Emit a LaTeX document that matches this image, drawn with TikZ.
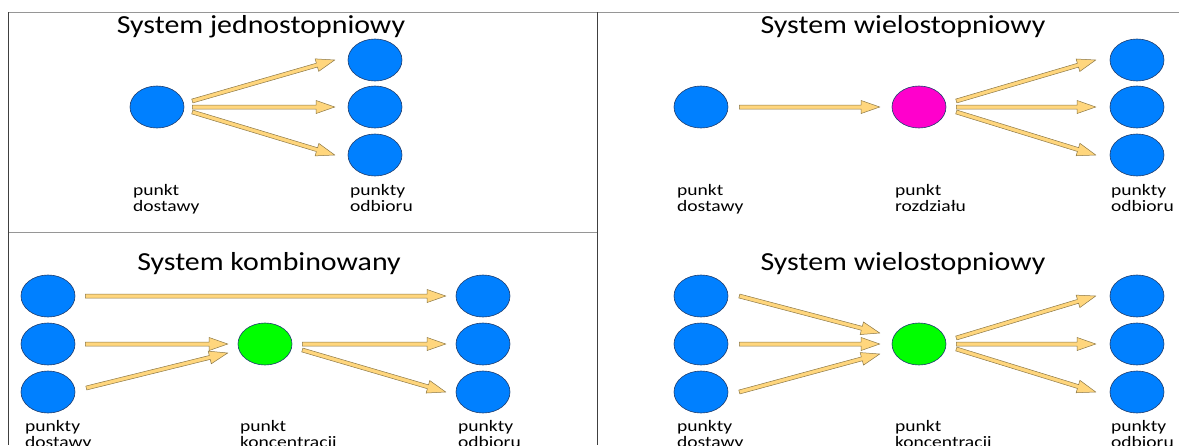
\documentclass[tikz,border=0pt]{standalone}
\usepackage{fontspec}
\setmainfont{Carlito}
\newfontfamily\titlefont[FakeStretch=1.15]{Carlito}
\newfontfamily\labelfont[FakeStretch=1.22]{Carlito}
\usetikzlibrary{calc,shapes.geometric}
\definecolor{nodeblue}{RGB}{0,128,255}
\definecolor{nodeedge}{RGB}{30,60,110}
\definecolor{nodepink}{RGB}{255,0,204}
\definecolor{nodegreen}{RGB}{0,255,0}
\definecolor{arrowfill}{RGB}{255,214,125}
\definecolor{arrowedge}{RGB}{140,120,70}
\definecolor{framedark}{RGB}{64,64,64}
\definecolor{framelight}{RGB}{150,150,150}
\newcommand\blockarrow[2]{%
  \coordinate (as) at #1;
  \coordinate (ae) at #2;
  \coordinate (ah) at ($(ae)!18.5pt!(as)$);
  \filldraw[arrowbody] ($(as)!2pt!90:(ae)$) -- ($(ah)!2pt!-90:(as)$) -- ($(ah)!6.5pt!-90:(as)$) -- (ae) -- ($(ah)!6.5pt!90:(as)$) -- ($(ah)!2pt!90:(as)$) -- ($(as)!2pt!-90:(ae)$) -- cycle;}
\begin{document}
\begin{tikzpicture}[x=1pt,y=-1pt,
  spot/.style={ellipse,minimum width=54pt,minimum height=42pt,inner sep=0pt,draw=nodeedge,line width=0.6pt},
  bluespot/.style={spot,fill=nodeblue},
  pinkspot/.style={spot,fill=nodepink},
  greenspot/.style={spot,fill=nodegreen},
  arrowbody/.style={fill=arrowfill,draw=arrowedge,line width=0.5pt,line join=miter},
  title/.style={font=\titlefont\fontsize{26}{30}\selectfont,inner sep=0pt},
  lbl/.style={font=\labelfont\fontsize{16}{16}\selectfont,align=left,anchor=base west,inner sep=0pt},
  darkline/.style={draw=framedark,line width=1pt},
  lightline/.style={draw=framelight,line width=1pt}]
\useasboundingbox (0,0) rectangle (1179,445);
\clip (0,0) rectangle (1179,445);
\fill[white] (0,0) rectangle (1179,445);
% frame
\coordinate (f1) at (8,12);
\coordinate (f2) at (1179,12);
\coordinate (f3) at (597,232);
\coordinate (f4) at (8,232);
\coordinate (f5) at (8,445);
\coordinate (f6) at (597,445);
\coordinate (f7) at (597,12);
\path[lightline] (f1) -- (f2);
\path[lightline] (f4) -- (f3);
\path[darkline] (f1) -- (f5);
\path[darkline] (f7) -- (f6);
% ---------- top left
\node[title] (t1) at (261,27) {System jednostopniowy};
\node[bluespot] (s1) at (157,107) {};
\node[bluespot] (r1a) at (375,60) {};
\node[bluespot] (r1b) at (375,107) {};
\node[bluespot] (r1c) at (375,155) {};
\blockarrow{($(s1.east)+(8,-6)$)}{($(r1a.west)+(-13,0)$)}
\blockarrow{($(s1.east)+(8,0)$)}{($(r1b.west)+(-13,0)$)}
\blockarrow{($(s1.east)+(8,5)$)}{($(r1c.west)+(-13,0)$)}
\node[lbl] (l1a) at (133,211) {punkt\\dostawy};
\node[lbl] (l1b) at (350,211) {punkty\\odbioru};
% ---------- top right
\node[title] (t2) at (903,27) {System wielostopniowy};
\node[bluespot] (s2) at (701,107) {};
\node[pinkspot] (p2) at (919,107) {};
\node[bluespot] (r2a) at (1137,60) {};
\node[bluespot] (r2b) at (1137,107) {};
\node[bluespot] (r2c) at (1137,155) {};
\blockarrow{($(s2.east)+(11,0)$)}{($(p2.west)+(-12,0)$)}
\blockarrow{($(p2.east)+(10,-6)$)}{($(r2a.west)+(-14,0)$)}
\blockarrow{($(p2.east)+(10,0)$)}{($(r2b.west)+(-14,0)$)}
\blockarrow{($(p2.east)+(10,5)$)}{($(r2c.west)+(-14,0)$)}
\node[lbl] (l2a) at (677,211) {punkt\\dostawy};
\node[lbl] (l2b) at (895,211) {punkt\\rozdziału};
\node[lbl] (l2c) at (1111,211) {punkty\\odbioru};
% ---------- bottom left
\node[title] (t3) at (269,264) {System kombinowany};
\node[bluespot] (s3a) at (48,296) {};
\node[bluespot] (s3b) at (48,344) {};
\node[bluespot] (s3c) at (48,392) {};
\node[greenspot] (g3) at (265,344) {};
\node[bluespot] (r3a) at (483,296) {};
\node[bluespot] (r3b) at (483,344) {};
\node[bluespot] (r3c) at (483,392) {};
\blockarrow{($(s3a.east)+(10,0)$)}{($(r3a.west)+(-10,0)$)}
\blockarrow{($(s3b.east)+(10,0)$)}{($(g3.west)+(-10,0)$)}
\blockarrow{($(s3c.east)+(11,-4)$)}{($(g3.west)+(-10,9)$)}
\blockarrow{($(g3.east)+(10,0)$)}{($(r3b.west)+(-10,0)$)}
\blockarrow{($(g3.east)+(10,6)$)}{($(r3c.west)+(-10,0)$)}
\node[lbl] (l3a) at (25,447) {punkty\\dostawy};
\node[lbl] (l3b) at (240,447) {punkt\\koncentracji};
\node[lbl] (l3c) at (458,447) {punkty\\odbioru};
% ---------- bottom right
\node[title] (t4) at (903,264) {System wielostopniowy};
\node[bluespot] (s4a) at (701,296) {};
\node[bluespot] (s4b) at (701,344) {};
\node[bluespot] (s4c) at (701,392) {};
\node[greenspot] (g4) at (919,344) {};
\node[bluespot] (r4a) at (1137,296) {};
\node[bluespot] (r4b) at (1137,344) {};
\node[bluespot] (r4c) at (1137,392) {};
\blockarrow{($(s4a.east)+(11,0)$)}{($(g4.west)+(-12,-11)$)}
\blockarrow{($(s4b.east)+(11,0)$)}{($(g4.west)+(-12,0)$)}
\blockarrow{($(s4c.east)+(11,0)$)}{($(g4.west)+(-12,10)$)}
\blockarrow{($(g4.east)+(10,-6)$)}{($(r4a.west)+(-14,0)$)}
\blockarrow{($(g4.east)+(10,0)$)}{($(r4b.west)+(-14,0)$)}
\blockarrow{($(g4.east)+(10,5)$)}{($(r4c.west)+(-14,0)$)}
\node[lbl] (l4a) at (677,447) {punkty\\dostawy};
\node[lbl] (l4b) at (895,447) {punkt\\koncentracji};
\node[lbl] (l4c) at (1111,447) {punkty\\odbioru};
\end{tikzpicture}
\end{document}
